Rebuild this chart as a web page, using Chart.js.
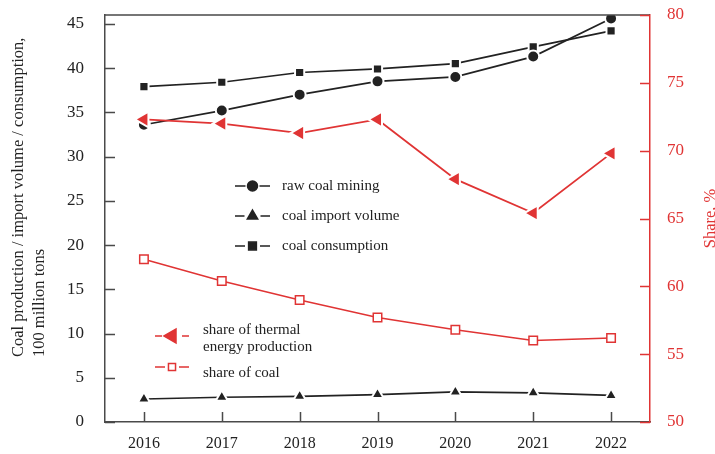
<!DOCTYPE html>
<html>
<head>
<meta charset="utf-8">
<script src="https://cdn.jsdelivr.net/npm/chart.js@4/dist/chart.umd.min.js"></script>
<style>
  html, body { margin: 0; padding: 0; background: #fff; }
  #wrap { width: 715px; height: 454px; position: relative; }
</style>
</head>
<body>
<div id="wrap"><canvas id="coalChart"></canvas></div>
<script>
// data
const years = ['2016', '2017', '2018', '2019', '2020', '2021', '2022'];
const rawCoalMining = [33.6, 35.2, 37.0, 38.5, 39.0, 41.3, 45.6];
const coalImport = [2.6, 2.8, 2.9, 3.1, 3.4, 3.3, 3.0];
const coalConsumption = [37.9, 38.4, 39.5, 39.9, 40.5, 42.4, 44.2];
const thermalShare = [72.3, 72.0, 71.3, 72.3, 67.9, 65.4, 69.8];
const coalShare = [62.0, 60.4, 59.0, 57.7, 56.8, 56.0, 56.2];

const leftTitle = ['Coal production / import volume / consumption,', '100 million tons'];
const rightTitle = 'Share, %';

const BLACK = '#222222';
const AXIS = '#4a4a4a';
const RED = '#e03434';
const FONT = '"Liberation Serif", "Times New Roman", serif';

// ticks inside the frame, top border, axis titles, legend
const framePlugin = {
    id: 'frame',
    afterDraw(chart) {
        const ctx = chart.ctx;
        const a = chart.chartArea;
        const x = chart.scales.x, y = chart.scales.y, y1 = chart.scales.y1;
        ctx.save();
        ctx.lineWidth = 1.5;
        ctx.strokeStyle = AXIS;
        ctx.beginPath();
        ctx.moveTo(a.left, a.top);
        ctx.lineTo(a.right, a.top);
        y.ticks.forEach((t, i) => {
            const py = Math.round(y.getPixelForTick(i)) + 0.5;
            ctx.moveTo(a.left, py);
            ctx.lineTo(a.left + 10, py);
        });
        x.ticks.forEach((t, i) => {
            const px = Math.round(x.getPixelForTick(i)) + 0.5;
            ctx.moveTo(px, a.bottom);
            ctx.lineTo(px, a.bottom - 10);
        });
        ctx.stroke();
        ctx.strokeStyle = RED;
        ctx.beginPath();
        y1.ticks.forEach((t, i) => {
            const py = Math.round(y1.getPixelForTick(i)) + 0.5;
            ctx.moveTo(a.right, py);
            ctx.lineTo(a.right - 10, py);
        });
        ctx.stroke();

        // axis titles
        ctx.font = '16.5px ' + FONT;
        ctx.textBaseline = 'middle';
        ctx.fillStyle = BLACK;
        ctx.save();
        ctx.translate(19, 357);
        ctx.rotate(-Math.PI / 2);
        ctx.textAlign = 'left';
        ctx.fillText(leftTitle[0], 0, 0);
        ctx.fillText(leftTitle[1], 0, 21);
        ctx.restore();
        ctx.save();
        ctx.fillStyle = RED;
        ctx.translate(711, (a.top + a.bottom) / 2);
        ctx.rotate(-Math.PI / 2);
        ctx.textAlign = 'center';
        ctx.fillText(rightTitle, 0, 0);
        ctx.restore();

        // legend
        const items = [
            { ds: 0, lx: 235, rx: 270, cy: 186, tx: 282, lines: ['raw coal mining'] },
            { ds: 1, lx: 235, rx: 270, cy: 216, tx: 282, lines: ['coal import volume'] },
            { ds: 2, lx: 235, rx: 270, cy: 246, tx: 282, lines: ['coal consumption'] },
            { ds: 3, lx: 155, rx: 189, cy: 336, tx: 203, lines: ['share of thermal', 'energy production'] },
            { ds: 4, lx: 155, rx: 189, cy: 367, tx: 203, lines: ['share of coal'] }
        ];
        ctx.font = '15px ' + FONT;
        ctx.textAlign = 'left';
        items.forEach(it => {
            const ds = chart.data.datasets[it.ds];
            const mx = (it.lx + it.rx) / 2;
            const r = ds.pointRadius - 1;
            ctx.strokeStyle = ds.borderColor;
            ctx.lineWidth = 1.5;
            ctx.beginPath();
            ctx.moveTo(it.lx, it.cy);
            ctx.lineTo(mx - r - 2, it.cy);
            ctx.moveTo(mx + r + 2, it.cy);
            ctx.lineTo(it.rx, it.cy);
            ctx.stroke();
            ctx.fillStyle = ds.pointBackgroundColor;
            ctx.strokeStyle = ds.pointBorderColor === '#ffffff' ? ds.pointBackgroundColor : ds.pointBorderColor;
            ctx.lineWidth = 1.5;
            Chart.helpers.drawPoint(ctx, {
                pointStyle: ds.pointStyle,
                radius: r,
                rotation: ds.pointRotation || 0,
                borderWidth: 1.5
            }, mx, it.cy);
            ctx.fillStyle = BLACK;
            if (it.lines.length === 1) {
                ctx.fillText(it.lines[0], it.tx, it.cy + (it.ds === 4 ? 6 : 0));
            } else {
                ctx.fillText(it.lines[0], it.tx, it.cy - 6);
                ctx.fillText(it.lines[1], it.tx, it.cy + 11);
            }
        });
        ctx.restore();
    }
};

function blackSeries(label, data, style, r) {
    return {
        label: label,
        data: data,
        yAxisID: 'y',
        order: 2,
        borderColor: BLACK,
        borderWidth: 1.7,
        pointStyle: style,
        pointRadius: r,
        pointHoverRadius: r,
        pointBackgroundColor: BLACK,
        pointBorderColor: '#ffffff',
        pointBorderWidth: 2,
        tension: 0
    };
}

// keep the plot frame where the reference has it
function noEdgePadding(scale) {
    scale.paddingTop = 0;
    scale.paddingBottom = 0;
}

const ctx = document.getElementById('coalChart').getContext('2d');
new Chart(ctx, {
    type: 'line',
    data: {
        labels: years,
        datasets: [
            blackSeries('raw coal mining', rawCoalMining, 'circle', 6),
            blackSeries('coal import volume', coalImport, 'triangle', 7),
            blackSeries('coal consumption', coalConsumption, 'rect', 6.5),
            {
                label: 'share of thermal energy production',
                data: thermalShare,
                yAxisID: 'y1',
                order: 1,
                borderColor: RED,
                borderWidth: 1.8,
                pointStyle: 'triangle',
                pointRotation: -90,
                pointRadius: 9,
                pointHoverRadius: 9,
                pointBackgroundColor: RED,
                pointBorderColor: '#ffffff',
                pointBorderWidth: 2,
                tension: 0
            },
            {
                label: 'share of coal',
                data: coalShare,
                yAxisID: 'y1',
                order: 1,
                borderColor: RED,
                borderWidth: 1.5,
                pointStyle: 'rect',
                pointRadius: 6,
                pointHoverRadius: 6,
                pointBackgroundColor: '#ffffff',
                pointBorderColor: RED,
                pointBorderWidth: 1.5,
                tension: 0
            }
        ]
    },
    options: {
        responsive: true,
        maintainAspectRatio: false,
        animation: false,
        layout: { padding: { top: 15, left: 0, right: 0, bottom: 0 } },
        plugins: {
            legend: { display: false },
            tooltip: { enabled: false }
        },
        scales: {
            x: {
                offset: true,
                grid: { display: false, drawTicks: false },
                border: { display: true, color: AXIS, width: 1.5 },
                ticks: { color: BLACK, padding: 12, font: { family: FONT, size: 16 } },
                afterFit(scale) { scale.height = 32; scale.paddingLeft = 0; scale.paddingRight = 0; }
            },
            y: {
                position: 'left',
                min: 0,
                max: 46,
                grid: { display: false, drawTicks: false },
                border: { display: true, color: AXIS, width: 1.5 },
                ticks: {
                    stepSize: 5,
                    includeBounds: false,
                    color: BLACK,
                    padding: 21,
                    font: { family: FONT, size: 17 }
                },
                afterFit(scale) { scale.width = 105; noEdgePadding(scale); }
            },
            y1: {
                position: 'right',
                min: 50,
                max: 80,
                grid: { display: false, drawTicks: false },
                border: { display: true, color: RED, width: 1.5 },
                ticks: {
                    stepSize: 5,
                    color: RED,
                    padding: 17,
                    font: { family: FONT, size: 17 }
                },
                afterFit(scale) { scale.width = 65; noEdgePadding(scale); }
            }
        }
    },
    plugins: [framePlugin]
});
</script>
</body>
</html>
